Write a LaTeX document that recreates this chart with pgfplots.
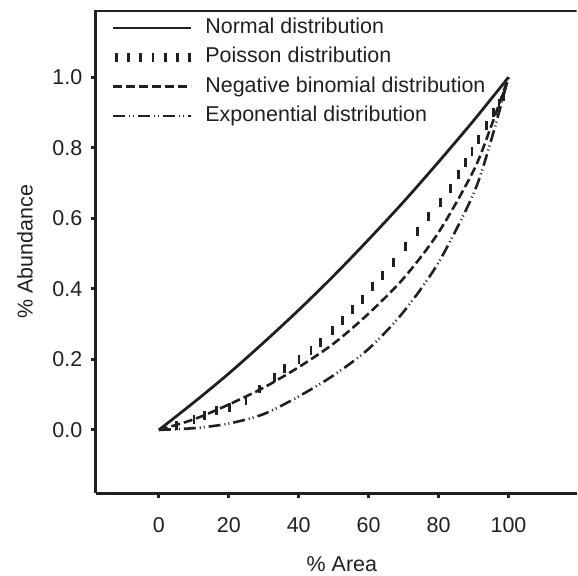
\documentclass[border=0pt]{standalone}
\usepackage{pgfplots}
\pgfplotsset{compat=1.18}
\usepackage{fontspec}
\setmainfont{Liberation Sans}
\definecolor{ink}{RGB}{35,31,32}
\newcommand{\chartfont}{\fontsize{21.5}{25}\selectfont}

\begin{document}
\begin{tikzpicture}
\path (0pt,0pt) rectangle (578pt,577pt);
\begin{axis}[
  at={(96pt,82.7pt)}, anchor=south west,
  scale only axis, width=482pt, height=483.8pt,
  xmin=-18.06, xmax=119.46, ymin=-0.179, ymax=1.1895,
  axis x line*=bottom, axis y line*=left,
  axis line style={line width=3pt, draw=ink, -},
  xtick={0,20,40,60,80,100}, ytick={0,0.2,0.4,0.6,0.8,1},
  tick align=outside, major tick length=5pt,
  tick style={line width=3pt, draw=ink},
  ticklabel style={font=\chartfont, text=ink},
  /pgf/number format/assume math mode=true,
  scaled y ticks=false,
  yticklabel style={/pgf/number format/fixed, /pgf/number format/fixed zerofill,
    /pgf/number format/precision=1, xshift=-5pt},
  xticklabel style={yshift=-16pt},
  xlabel={\% Area}, ylabel={\% Abundance},
  label style={font=\chartfont, text=ink},
  xlabel style={at={(axis description cs:0.512,-0.1629)}, anchor=base},
  ylabel style={at={(axis description cs:-0.1473,0.5)}, anchor=center},
  legend cell align=left,
  legend image code/.code={\draw[#1] (0pt,0pt) -- (78pt,0pt);},
  legend style={at={(axis description cs:0.033,0.986)}, anchor=north west,
    draw=none, fill=none, font=\chartfont, text=ink, row sep=8.5pt, inner sep=0pt,
    nodes={inner sep=0pt, text height=16pt, text depth=5pt},
    /tikz/every odd column/.style={column sep=13pt}},
]
% Normal distribution
\addplot[ink, line width=2.8pt, smooth] coordinates {
(0,0) (10,0.078) (20,0.16) (30,0.248) (40,0.34) (50,0.437) (60,0.54) (70,0.647) (80,0.76) (90,0.877) (100,1.0)
};
\addlegendentry{Normal distribution}
% Poisson distribution (bars)
\addplot[ink, only marks, mark=|, mark size=4.5pt, mark options={line width=2.7pt, solid},
  legend image code/.code={\foreach \i in {0,...,6} {\draw[ink, line width=2.7pt] (\i*12.3pt+3pt,-4.5pt) -- ++(0pt,9pt);}}]
coordinates {
(5,0.012) (10,0.03) (13,0.042) (16.4,0.055) (20.2,0.064) (24.9,0.083) (28.7,0.116) (33.0,0.149) (35.9,0.173)
(40.1,0.201) (43.5,0.224) (46.3,0.248) (49.6,0.281) (52.5,0.31) (55.4,0.342) (58.2,0.371) (61.1,0.408)
(63.9,0.437) (67.2,0.474) (70.6,0.520) (73.9,0.564) (77.2,0.605) (80.6,0.644) (83.4,0.684) (85.8,0.724)
(87.7,0.757) (89.6,0.79) (91.5,0.823) (93.7,0.862) (95.8,0.899) (97.3,0.925) (98.6,0.945)
};
\addlegendentry{Poisson distribution}
% Negative binomial distribution
\addplot[ink, line width=2.6pt, smooth, dash pattern=on 9pt off 4pt] coordinates {
(0,0) (10,0.03) (20,0.072) (30,0.12) (40,0.178) (50,0.245) (60,0.33) (70,0.43) (80,0.56) (90,0.735) (95,0.86) (100,1.0)
};
\addlegendentry{Negative binomial distribution}
% Exponential distribution
\addplot[ink, line width=2.6pt, smooth, dash pattern=on 12pt off 4pt on 1pt off 3pt on 1pt off 4pt] coordinates {
(0,0) (10,0.005) (20,0.018) (30,0.045) (40,0.095) (50,0.155) (60,0.23) (70,0.335) (80,0.475) (90,0.67) (95,0.82) (100,1.0)
};
\addlegendentry{Exponential distribution}
\draw[ink, line width=3pt] (rel axis cs:0,1) -- (rel axis cs:1,1);
\end{axis}
\end{tikzpicture}
\end{document}
